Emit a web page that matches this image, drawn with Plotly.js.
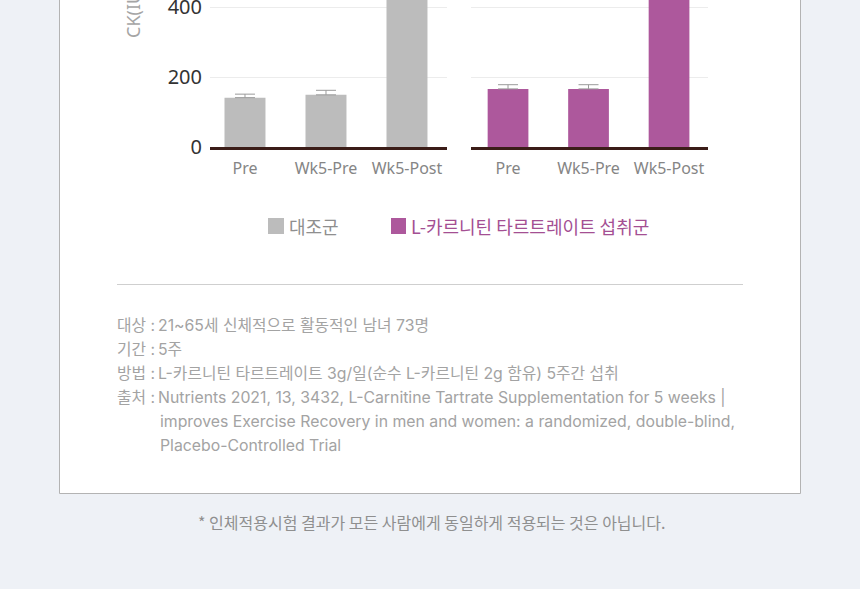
<!DOCTYPE html>
<html>
<head>
<meta charset="utf-8">
<script src="https://cdn.plot.ly/plotly-3.0.1.min.js"></script>
<style>
html,body{margin:0;padding:0;background:#eef1f6;}
#chart{width:860px;height:589px;}
</style>
</head>
<body>
<div id="chart"></div>
<script>
// ---- data ----
const categories = ['Pre', 'Wk5-Pre', 'Wk5-Post'];
const seriesNames = ['대조군', 'L-카르니틴 타르트레이트 섭취군'];
const controlValues = [141, 149, 700];
const controlErrors = [10, 13, 60];
const lcltValues = [166, 166, 560];
const lcltErrors = [12, 12, 50];
const yTickVals = [0, 200, 400];
const yTickText = ['0', '200', '400'];
const yTitle = 'CK(IU/L)';
const infoLabels = ['대상 :', '기간 :', '방법 :', '출처 :'];
const infoTexts = [
  '21~65세 신체적으로 활동적인 남녀 73명',
  '5주',
  'L-카르니틴 타르트레이트 3g/일(순수 L-카르니틴 2g 함유) 5주간 섭취',
  'Nutrients 2021, 13, 3432, L-Carnitine Tartrate Supplementation for 5 weeks |'
];
const infoContinued = [
  'improves Exercise Recovery in men and women: a randomized, double-blind,',
  'Placebo-Controlled Trial'
];
const footnote = '* 인체적용시험 결과가 모든 사람에게 동일하게 적용되는 것은 아닙니다.';

// ---- helpers (pixel -> paper) ----
const W = 860, H = 589;
const px = x => x / W;
const py = y => 1 - y / H;

const GRAY = '#bcbcbc';
const PURPLE = '#ad589c';
const KR = '"Noto Sans CJK KR", "Noto Sans", sans-serif';
const INFO = 'Inter, "Noto Sans CJK KR", sans-serif';
const LAT = '"Noto Sans", "Open Sans", sans-serif';

const traces = [
  {
    type: 'bar', name: seriesNames[0], x: categories, y: controlValues,
    xaxis: 'x', yaxis: 'y', marker: {color: GRAY}, showlegend: false,
    error_y: {type: 'data', array: controlErrors, arrayminus: controlErrors.map(() => 0), symmetric: false,
              color: '#9a9a9a', thickness: 1, width: 10}
  },
  {
    type: 'bar', name: seriesNames[1], x: categories, y: lcltValues,
    xaxis: 'x2', yaxis: 'y2', marker: {color: PURPLE}, showlegend: false,
    error_y: {type: 'data', array: lcltErrors, arrayminus: lcltErrors.map(() => 0), symmetric: false,
              color: '#9a9a9a', thickness: 1, width: 10}
  }
];

const yDomain = [py(147), 1];
const xCommon = {
  showgrid: false, zeroline: false, showline: true, linecolor: '#3b1d18', linewidth: 3,
  ticks: '', tickfont: {family: LAT, size: 16, color: '#858585'}, ticklabelstandoff: 5,
  fixedrange: true
};
const yCommon = {
  range: [0, 420], domain: yDomain, tickvals: yTickVals, ticktext: yTickText,
  showgrid: true, gridcolor: '#ececec', gridwidth: 1, zeroline: false, showline: false,
  ticks: '', fixedrange: true, ticklabeloverflow: 'allow'
};

const annotations = [];
// y-axis title (rotated)
annotations.push({
  xref: 'paper', yref: 'paper', x: px(133), y: py(4), xanchor: 'center', yanchor: 'middle',
  text: yTitle, textangle: -90, showarrow: false,
  font: {family: LAT, size: 18, color: '#a5a5a5'}
});
// legend texts
annotations.push({
  xref: 'paper', yref: 'paper', x: px(287), y: py(226), xanchor: 'left', yanchor: 'middle',
  text: seriesNames[0], showarrow: false, font: {family: KR, size: 18, color: '#8f8f8f'}
});
annotations.push({
  xref: 'paper', yref: 'paper', x: px(409), y: py(226), xanchor: 'left', yanchor: 'middle',
  text: seriesNames[1], showarrow: false, font: {family: KR, size: 18, color: '#a44f93'}
});
// info block
const infoY = [325, 349, 373, 397];
infoLabels.forEach((lab, i) => {
  annotations.push({
    xref: 'paper', yref: 'paper', x: px(115), y: py(infoY[i]), xanchor: 'left', yanchor: 'middle',
    text: lab, showarrow: false, font: {family: INFO, size: 15.8, color: '#a3a3a3'}
  });
  annotations.push({
    xref: 'paper', yref: 'paper', x: px(156), y: py(infoY[i]), xanchor: 'left', yanchor: 'middle',
    text: infoTexts[i], showarrow: false, font: {family: INFO, size: 15.8, color: '#a3a3a3'}
  });
});
const contY = [421, 445];
infoContinued.forEach((t, i) => {
  annotations.push({
    xref: 'paper', yref: 'paper', x: px(158), y: py(contY[i]), xanchor: 'left', yanchor: 'middle',
    text: t, showarrow: false, font: {family: INFO, size: 15.8, color: '#a3a3a3'}
  });
});
// footnote
annotations.push({
  xref: 'paper', yref: 'paper', x: px(431), y: py(522), xanchor: 'center', yanchor: 'middle',
  text: footnote, showarrow: false, font: {family: KR, size: 16, color: '#8f8f8f'}
});

const shapes = [
  {type: 'rect', xref: 'paper', yref: 'paper', x0: px(59.5), x1: px(800.5), y0: py(493.5), y1: py(-10),
   fillcolor: '#ffffff', line: {color: '#b3b3b3', width: 1}, layer: 'below'},
  {type: 'line', xref: 'paper', yref: 'paper', x0: px(117), x1: px(743), y0: py(284.5), y1: py(284.5),
   line: {color: '#cfcfcf', width: 1}},
  {type: 'rect', xref: 'paper', yref: 'paper', x0: px(268), x1: px(284), y0: py(234), y1: py(218),
   fillcolor: GRAY, line: {width: 0}},
  {type: 'rect', xref: 'paper', yref: 'paper', x0: px(391), x1: px(406), y0: py(234), y1: py(218),
   fillcolor: PURPLE, line: {width: 0}}
];

const layout = {
  width: W, height: H,
  margin: {l: 0, r: 0, t: 0, b: 0},
  paper_bgcolor: '#eef1f6', plot_bgcolor: 'rgba(0,0,0,0)',
  showlegend: false, bargap: 0.494,
  xaxis: Object.assign({}, xCommon, {domain: [px(210), px(447)], anchor: 'y', range: [-0.432, 2.494]}),
  xaxis2: Object.assign({}, xCommon, {domain: [px(471), px(708)], anchor: 'y2', range: [-0.46, 2.484]}),
  yaxis: Object.assign({}, yCommon, {anchor: 'x', showticklabels: true, ticklabelstandoff: 7,
    tickfont: {family: LAT, size: 20, color: '#333333'}}),
  yaxis2: Object.assign({}, yCommon, {anchor: 'x2', showticklabels: false}),
  annotations: annotations,
  shapes: shapes
};

Plotly.newPlot('chart', traces, layout, {displayModeBar: false, staticPlot: true});
</script>
</body>
</html>
